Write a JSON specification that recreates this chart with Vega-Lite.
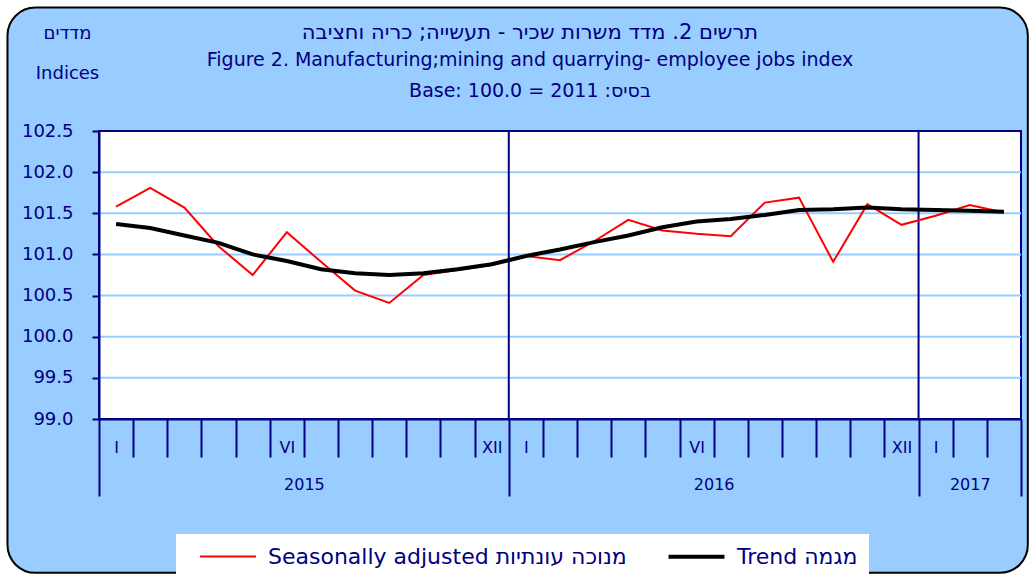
{
  "$schema": "https://vega.github.io/schema/vega-lite/v6.json",
  "width": 922,
  "height": 288,
  "autosize": {"type": "none"},
  "padding": {"left": 99, "top": 131, "right": 9, "bottom": 155},
  "background": "white",
  "config": {"view": {"stroke": null}, "font": "DejaVu Sans"},
  "title": {
    "text": "תרשים 2. מדד משרות שכיר  - תעשייה; כריה וחציבה",
    "subtitle": ["Figure 2. Manufacturing;mining and quarrying- employee jobs index", "Base: 100.0 = 2011 :בסיס"],
    "font": "DejaVu Sans",
    "fontSize": 21,
    "fontWeight": "normal",
    "color": "#000080",
    "subtitleFont": "DejaVu Sans",
    "subtitleFontSize": 19,
    "subtitleColor": "#000080",
    "subtitleLineHeight": 31,
    "subtitlePadding": 8,
    "anchor": "middle",
    "frame": "group",
    "dx": -30,
    "dy": 94,
    "offset": 0
  },
  "datasets": {
    "frame": [{"x1": -2.68, "x2": 27.2, "y1": 97.13, "y2": 104.0}],
    "plot": [{"x1": 0, "x2": 27, "y1": 99, "y2": 102.5}],
    "grid": [{"g": 99.5}, {"g": 100.0}, {"g": 100.5}, {"g": 101.0}, {"g": 101.5}, {"g": 102.0}],
    "sep": [{"s": 12}, {"s": 24}],
    "series": [
      {"m": 0.5, "series": "Seasonally adjusted מנוכה עונתיות", "v": 101.58},
      {"m": 1.5, "series": "Seasonally adjusted מנוכה עונתיות", "v": 101.81},
      {"m": 2.5, "series": "Seasonally adjusted מנוכה עונתיות", "v": 101.57},
      {"m": 3.5, "series": "Seasonally adjusted מנוכה עונתיות", "v": 101.10},
      {"m": 4.5, "series": "Seasonally adjusted מנוכה עונתיות", "v": 100.75},
      {"m": 5.5, "series": "Seasonally adjusted מנוכה עונתיות", "v": 101.27},
      {"m": 6.5, "series": "Seasonally adjusted מנוכה עונתיות", "v": 100.91},
      {"m": 7.5, "series": "Seasonally adjusted מנוכה עונתיות", "v": 100.56},
      {"m": 8.5, "series": "Seasonally adjusted מנוכה עונתיות", "v": 100.41},
      {"m": 9.5, "series": "Seasonally adjusted מנוכה עונתיות", "v": 100.75},
      {"m": 10.5, "series": "Seasonally adjusted מנוכה עונתיות", "v": 100.81},
      {"m": 11.5, "series": "Seasonally adjusted מנוכה עונתיות", "v": 100.87},
      {"m": 12.5, "series": "Seasonally adjusted מנוכה עונתיות", "v": 100.98},
      {"m": 13.5, "series": "Seasonally adjusted מנוכה עונתיות", "v": 100.93},
      {"m": 14.5, "series": "Seasonally adjusted מנוכה עונתיות", "v": 101.16},
      {"m": 15.5, "series": "Seasonally adjusted מנוכה עונתיות", "v": 101.42},
      {"m": 16.5, "series": "Seasonally adjusted מנוכה עונתיות", "v": 101.29},
      {"m": 17.5, "series": "Seasonally adjusted מנוכה עונתיות", "v": 101.25},
      {"m": 18.5, "series": "Seasonally adjusted מנוכה עונתיות", "v": 101.22},
      {"m": 19.5, "series": "Seasonally adjusted מנוכה עונתיות", "v": 101.63},
      {"m": 20.5, "series": "Seasonally adjusted מנוכה עונתיות", "v": 101.69},
      {"m": 21.5, "series": "Seasonally adjusted מנוכה עונתיות", "v": 100.91},
      {"m": 22.5, "series": "Seasonally adjusted מנוכה עונתיות", "v": 101.61},
      {"m": 23.5, "series": "Seasonally adjusted מנוכה עונתיות", "v": 101.36},
      {"m": 24.5, "series": "Seasonally adjusted מנוכה עונתיות", "v": 101.47},
      {"m": 25.5, "series": "Seasonally adjusted מנוכה עונתיות", "v": 101.60},
      {"m": 26.5, "series": "Seasonally adjusted מנוכה עונתיות", "v": 101.51},
      {"m": 0.5, "series": "Trend מגמה", "v": 101.37},
      {"m": 1.5, "series": "Trend מגמה", "v": 101.32},
      {"m": 2.5, "series": "Trend מגמה", "v": 101.23},
      {"m": 3.5, "series": "Trend מגמה", "v": 101.14},
      {"m": 4.5, "series": "Trend מגמה", "v": 101.00},
      {"m": 5.5, "series": "Trend מגמה", "v": 100.92},
      {"m": 6.5, "series": "Trend מגמה", "v": 100.82},
      {"m": 7.5, "series": "Trend מגמה", "v": 100.77},
      {"m": 8.5, "series": "Trend מגמה", "v": 100.75},
      {"m": 9.5, "series": "Trend מגמה", "v": 100.77},
      {"m": 10.5, "series": "Trend מגמה", "v": 100.82},
      {"m": 11.5, "series": "Trend מגמה", "v": 100.88},
      {"m": 12.5, "series": "Trend מגמה", "v": 100.98},
      {"m": 13.5, "series": "Trend מגמה", "v": 101.06},
      {"m": 14.5, "series": "Trend מגמה", "v": 101.15},
      {"m": 15.5, "series": "Trend מגמה", "v": 101.23},
      {"m": 16.5, "series": "Trend מגמה", "v": 101.33},
      {"m": 17.5, "series": "Trend מגמה", "v": 101.40},
      {"m": 18.5, "series": "Trend מגמה", "v": 101.43},
      {"m": 19.5, "series": "Trend מגמה", "v": 101.48},
      {"m": 20.5, "series": "Trend מגמה", "v": 101.54},
      {"m": 21.5, "series": "Trend מגמה", "v": 101.55},
      {"m": 22.5, "series": "Trend מגמה", "v": 101.57},
      {"m": 23.5, "series": "Trend מגמה", "v": 101.55},
      {"m": 24.5, "series": "Trend מגמה", "v": 101.54},
      {"m": 25.5, "series": "Trend מגמה", "v": 101.53},
      {"m": 26.5, "series": "Trend מגמה", "v": 101.52}
    ]
  },
  "layer": [
    {
      "data": {"name": "frame"},
      "mark": {"type": "rect", "fill": "#99CCFF", "stroke": "#000000", "strokeWidth": 2, "cornerRadius": 28},
      "encoding": {
        "x": {"field": "x1", "type": "quantitative", "scale": {"domain": [0, 27], "nice": false, "zero": false},
          "axis": {"orient": "bottom", "values": [0,1,2,3,4,5,6,7,8,9,10,11,12,13,14,15,16,17,18,19,20,21,22,23,24,25,26,27],
            "labels": false, "ticks": true,
            "tickSize": {"condition": {"test": "datum.value == 0 || datum.value == 12 || datum.value == 24 || datum.value == 27", "value": 77}, "value": 38},
            "tickColor": "#000080", "tickWidth": 2, "domain": true, "domainColor": "#000080", "domainWidth": 2,
            "grid": false, "title": null, "zindex": 1}},
        "x2": {"field": "x2"},
        "y": {"field": "y1", "type": "quantitative", "scale": {"domain": [99, 102.5], "nice": false, "zero": false},
          "axis": {"orient": "left", "values": [99, 99.5, 100, 100.5, 101, 101.5, 102, 102.5], "format": ".1f",
            "title": ["מדדים", "Indices"], "titleAngle": 0, "titleX": -32, "titleY": -93, "titleAlign": "center", "titleBaseline": "alphabetic",
            "titleLineHeight": 40, "titleFont": "DejaVu Sans", "titleFontSize": 18, "titleFontWeight": "normal", "titleColor": "#000080",
            "labelFont": "DejaVu Sans", "labelFontSize": 18, "labelColor": "#000080", "labelPadding": 19,
            "tickSize": 7, "tickColor": "#000080", "tickWidth": 2, "domainColor": "#000080", "domainWidth": 2,
            "grid": false, "zindex": 1}},
        "y2": {"field": "y2"}
      }
    },
    {
      "data": {"name": "plot"},
      "mark": {"type": "rect", "fill": "#FFFFFF", "stroke": "#000080", "strokeWidth": 2},
      "encoding": {
        "x": {"field": "x1", "type": "quantitative", "scale": {"domain": [0, 27], "nice": false, "zero": false},
          "axis": {"orient": "bottom", "values": [0.5, 5.5, 11.5, 12.5, 17.5, 23.5, 24.5],
            "labelExpr": "(datum.value == 0.5 || datum.value == 12.5 || datum.value == 24.5) ? 'I' : (datum.value == 5.5 || datum.value == 17.5) ? 'VI' : 'XII'",
            "ticks": false, "domain": false, "grid": false, "labelPadding": 28, "labelBaseline": "middle",
            "labelFont": "DejaVu Sans", "labelFontSize": 16, "labelColor": "#000080", "labelOverlap": false, "labelFlush": false, "labelBound": false,
            "title": null, "zindex": 1}},
        "x2": {"field": "x2"},
        "y": {"field": "y1", "type": "quantitative", "scale": {"domain": [99, 102.5], "nice": false, "zero": false}, "axis": null},
        "y2": {"field": "y2"}
      }
    },
    {
      "data": {"name": "grid"},
      "mark": {"type": "rule", "color": "#99CCFF", "strokeWidth": 2},
      "encoding": {
        "y": {"field": "g", "type": "quantitative", "scale": {"domain": [99, 102.5], "nice": false, "zero": false}, "axis": null}
      }
    },
    {
      "data": {"name": "sep"},
      "mark": {"type": "rule", "color": "#000080", "strokeWidth": 2},
      "encoding": {
        "x": {"field": "s", "type": "quantitative", "scale": {"domain": [0, 27], "nice": false, "zero": false}, "axis": null}
      }
    },
    {
      "data": {"name": "series"},
      "mark": {"type": "line", "interpolate": "linear"},
      "encoding": {
        "x": {"field": "m", "type": "quantitative", "scale": {"domain": [0, 27], "nice": false, "zero": false},
          "axis": {"orient": "bottom", "values": [6, 18, 25.5],
            "labelExpr": "datum.value == 6 ? '2015' : datum.value == 18 ? '2016' : '2017'",
            "ticks": false, "domain": false, "grid": false, "labelPadding": 65, "labelBaseline": "middle",
            "labelFont": "DejaVu Sans", "labelFontSize": 16, "labelColor": "#000080", "labelOverlap": false, "labelFlush": false, "labelBound": false,
            "title": null, "zindex": 1}},
        "y": {"field": "v", "type": "quantitative", "scale": {"domain": [99, 102.5], "nice": false, "zero": false}, "axis": null},
        "color": {"field": "series", "type": "nominal",
          "scale": {"domain": ["Seasonally adjusted מנוכה עונתיות", "Trend מגמה"], "range": ["#FF0000", "#000000"]},
          "legend": {"orient": "none", "legendX": 77, "legendY": 403, "direction": "horizontal", "title": null,
            "fillColor": "#FFFFFF", "padding": 11, "symbolType": "M-3,0H3", "symbolSize": 348, "symbolOffset": 30,
            "labelOffset": 29, "columnPadding": 28, "labelFont": "DejaVu Sans", "labelFontSize": 22, "labelColor": "#000080", "labelLimit": 0,
            "encode": {"symbols": {"update": {"strokeWidth": {"signal": "datum.value === 'Trend מגמה' ? 4 : 2"}}}}}},
        "strokeWidth": {"field": "series", "type": "nominal",
          "scale": {"domain": ["Seasonally adjusted מנוכה עונתיות", "Trend מגמה"], "range": [2, 4]}, "legend": null}
      }
    }
  ],
  "resolve": {"axis": {"x": "independent", "y": "independent"}}
}
